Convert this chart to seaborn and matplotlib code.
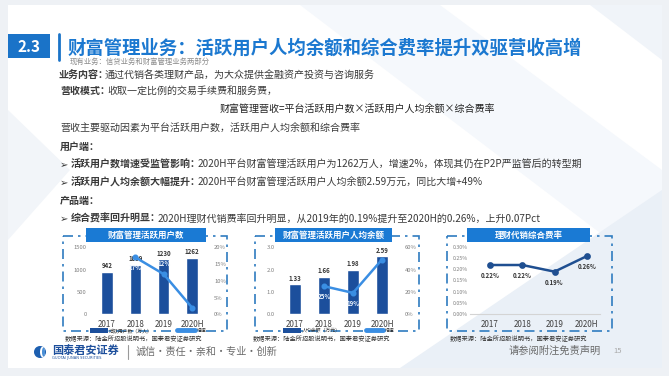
import matplotlib
matplotlib.use("Agg")
import matplotlib.pyplot as plt
import seaborn as sns
import numpy as np
import pandas as pd
from matplotlib.patches import Rectangle, Polygon, Patch, Circle, Ellipse
from matplotlib.lines import Line2D

# ---------------- data ----------------
years = ["2017", "2018", "2019", "2020H"]
active_users = [942, 1099, 1230, 1262]            # 万人
user_growth = [np.nan, 17, 12, 2]                 # %
avg_balance = [1.33, 1.66, 1.98, 2.59]            # 万元
balance_growth = [np.nan, 25, 19, 49]             # %
fee_rate = [0.22, 0.22, 0.19, 0.26]               # %

users_ticks = [0, 500, 1000, 1500]
users_growth_ticks = [0, 5, 10, 15, 20]
balance_ticks = [0.0, 1.0, 2.0, 3.0]
balance_growth_ticks = [0, 20, 40, 60]
fee_ticks = [0.00, 0.05, 0.10, 0.15, 0.20, 0.25, 0.30]

chart_titles = ["财富管理活跃用户数", "财富管理活跃用户人均余额", "理财代销综合费率"]
legend1 = ["活跃用户数（万人）", "增速"]
legend2 = ["人均余额（万元）", "增速"]
source_text = "数据来源：陆金所招股说明书，国泰君安证券研究"

# ---------------- style ----------------
sns.set_theme(style="white")
plt.rcParams["font.family"] = ["Noto Sans CJK SC", "DejaVu Sans"]

W, H = 669, 376
DARK = "#1c4f9c"
LIGHT = "#3a8ee3"
BOXBLUE = "#1a7ad4"
TXT = "#3a3a3a"

fig = plt.figure(figsize=(W / 100, H / 100), dpi=100)
fig.patch.set_facecolor("#eef1f5")

bg = fig.add_axes([0, 0, 1, 1])
bg.set_xlim(0, W)
bg.set_ylim(H, 0)
bg.axis("off")
bg.set_zorder(-5)


def frect(x0, y0, x1, y1):
    return [x0 / W, 1 - y1 / H, (x1 - x0) / W, (y1 - y0) / H]


# slide background & faint decorations
bg.add_patch(Rectangle((8, 5), 654, 363, facecolor="white", edgecolor="none"))
bg.add_patch(Polygon([(300, 5), (440, 5), (662, 170), (662, 280)], closed=True,
                     facecolor="#f5f8fc", edgecolor="none"))
bg.add_patch(Polygon([(400, 368), (662, 190), (662, 368)], closed=True,
                     facecolor="#eaf0f7", edgecolor="none"))
bg.add_patch(Polygon([(8, 110), (70, 170), (8, 240)], closed=True,
                     facecolor="#f2f5f9", edgecolor="none"))
bg.add_patch(Polygon([(590, 5), (662, 5), (662, 60)], closed=True,
                     facecolor="#f0f4f9", edgecolor="none"))

renderer = fig.canvas.get_renderer()


def rich(x, yc, parts, size, color=TXT):
    base = yc + 0.38 * size * 100 / 72
    for txt, bold in parts:
        t = bg.text(x, base, txt, fontsize=size, color=color, va="baseline", ha="left",
                    fontweight="bold" if bold else "normal")
        bb = t.get_window_extent(renderer=renderer)
        x += bb.width
        if txt == "➢":
            x += 2
        elif txt.endswith("："):
            x -= 3
    return x


# header
bg.add_patch(Rectangle((8, 34), 42, 24, facecolor="#1a73c8", edgecolor="none"))
bg.text(29, 46.5, "2.3", color="white", fontsize=11, fontweight="bold", ha="center", va="center")
bg.plot([59, 59], [34, 60], color="#1a73c8", lw=2)
rich(68, 47, [("财富管理业务：活跃用户人均余额和综合费率提升双驱营收高增", True)], 13.2, color="#1b78d0")
bg.text(70, 62, "现有业务：信贷业务和财富管理业务两部分", fontsize=5.3, color="#8c8c8c",
        ha="left", va="center")

BODY = 7.2
rich(58, 75, [("业务内容：", True), ("通过代销各类理财产品，为大众提供金融资产投资与咨询服务", False)], BODY)
rich(60, 90.5, [("营收模式：", True), ("收取一定比例的交易手续费和服务费，", False)], BODY)
bg.text(357, 109 + 0.38 * BODY * 100 / 72, "财富管理营收=平台活跃用户数×活跃用户人均余额×综合费率",
        fontsize=BODY, color="#222222", ha="center", va="baseline")
rich(60, 128, [("营收主要驱动因素为平台活跃用户数，活跃用户人均余额和综合费率", False)], BODY)
rich(60, 146.5, [("用户端：", True)], BODY)
rich(60, 164, [("➢", False), ("活跃用户数增速受监管影响：", True),
               ("2020H平台财富管理活跃用户为1262万人，增速2%，体现其仍在P2P严监管后的转型期", False)], BODY)
rich(60, 182, [("➢", False), ("活跃用户人均余额大幅提升：", True),
               ("2020H平台财富管理活跃用户人均余额2.59万元，同比大增+49%", False)], BODY)
rich(60, 200.5, [("产品端：", True)], BODY)
rich(60, 218, [("➢", False), ("综合费率回升明显：", True),
               ("2020H理财代销费率回升明显，从2019年的0.19%提升至2020H的0.26%，上升0.07Pct", False)], BODY)

# chart frames, title boxes, sources
frames = [(63, 236, 227, 331), (255, 236, 419, 331), (447, 236, 612, 331)]
boxes = [(86, 228, 206, 242), (275, 228, 392, 242), (467, 228, 590, 242)]
src_x = [65, 253, 450]
for (x0, y0, x1, y1), (bx0, by0, bx1, by1), title, sx in zip(frames, boxes, chart_titles, src_x):
    bg.add_patch(Rectangle((x0, y0), x1 - x0, y1 - y0, fill=False, edgecolor="#2f7cc0",
                           lw=1.2, linestyle=(0, (6, 3, 1.5, 3))))
    bg.add_patch(Rectangle((bx0, by0), bx1 - bx0, by1 - by0, facecolor=BOXBLUE,
                           edgecolor="none", zorder=3))
    bg.text((bx0 + bx1) / 2, (by0 + by1) / 2, title, color="white", fontsize=6.1,
            fontweight="bold", ha="center", va="center", zorder=4)
    bg.text(sx, 339, source_text, fontsize=4.5, color="#333333", ha="left", va="center")

# footer
bg.add_patch(Circle((40, 352), 6, facecolor="#1d5fb0", edgecolor="none"))
bg.add_patch(Ellipse((42.5, 352), 5, 10.5, facecolor="white", edgecolor="none"))
bg.add_patch(Ellipse((43.5, 352), 3, 9, facecolor="#4a8fd6", edgecolor="none"))
bg.text(52, 350, "国泰君安证券", fontsize=8, fontweight="bold", color="#1d4f9c",
        ha="left", va="center")
bg.text(52, 358.5, "GUOTAI JUNAN SECURITIES", fontsize=2.6, color="#1d4f9c",
        ha="left", va="center", family="DejaVu Sans")
bg.plot([128, 128], [345, 359], color="#9a9a9a", lw=0.8)
bg.text(136, 352, "诚信·责任·亲和·专业·创新", fontsize=7.3, color="#6a6a6a", ha="left", va="center")
bg.text(509, 351, "请参阅附注免责声明", fontsize=7.4, color="#6a6a6a", ha="left", va="center")
bg.text(613, 351, "15", fontsize=5.5, color="#a8a8a8", ha="left", va="center")

TICK = "#7f7f7f"
YEAR = "#404040"


def style_bar_axes(ax, axr):
    ax.patch.set_alpha(0)
    for a in (ax, axr):
        for s in a.spines.values():
            s.set_visible(False)
    ax.tick_params(axis="y", length=0, labelsize=4.2, labelcolor=TICK, pad=2.2)
    ax.tick_params(axis="x", length=0, labelsize=5.8, labelcolor=YEAR, pad=4.3)
    axr.tick_params(axis="y", length=0, labelsize=4.2, labelcolor=TICK, pad=3.6)
    ax.set_xlabel("")
    ax.set_ylabel("")
    axr.set_ylabel("")
    axr.grid(False)
    ax.grid(False)


def bar_line_chart(rect, bars, growth, yticks, yfmt, gticks, bar_w, label_fmt,
                   growth_offsets, legend_labels, legend_x):
    ax = fig.add_axes(frect(*rect))
    df = pd.DataFrame({"year": years, "value": bars, "growth": growth})
    sns.barplot(data=df, x="year", y="value", order=years, color=DARK, saturation=1,
                width=bar_w, ax=ax)
    ax.bar_label(ax.containers[0], labels=[label_fmt.format(v) for v in bars],
                 padding=2, fontsize=4.4, fontweight="bold", color="#333333")
    axr = ax.twinx()
    sns.pointplot(data=df, x="year", y="growth", order=years, color=LIGHT, markers="o",
                  markersize=3, linewidth=1.8, errorbar=None, ax=axr)
    for i, (g, off) in enumerate(zip(growth, growth_offsets)):
        if not np.isnan(g):
            axr.annotate(f"{g:.0f}%", (i, g), xytext=(0, off), textcoords="offset points",
                         ha="center", va="center", fontsize=4.4, fontweight="bold",
                         color="#eef5fd")
    ax.set_ylim(yticks[0], yticks[-1])
    ax.set_yticks(yticks)
    ax.set_yticklabels([yfmt.format(v) for v in yticks])
    axr.set_ylim(gticks[0], gticks[-1])
    axr.set_yticks(gticks)
    axr.set_yticklabels([f"{v}%" for v in gticks])
    ax.set_xlim(-0.6, 3.6)
    style_bar_axes(ax, axr)
    handles = [Patch(facecolor=DARK, edgecolor="none"),
               Line2D([0], [0], color=LIGHT, lw=3.5)]
    leg = fig.legend(handles, legend_labels, loc="center left",
                     bbox_to_anchor=(legend_x / W, 1 - 330.5 / H),
                     ncol=2, frameon=False, fontsize=3.5, handlelength=3.6, handleheight=1.2,
                     handletextpad=0.35, columnspacing=5.0, borderpad=0, borderaxespad=0)
    leg.set_zorder(10)
    for t in leg.get_texts():
        t.set_color("#333333")
    return ax, axr


bar_line_chart((90, 247.3, 209, 314.3), active_users, user_growth, users_ticks, "{:d}",
               users_growth_ticks, 0.41, "{:d}", [-8.5, -7.5, 7.5], legend1, 90)
bar_line_chart((277.6, 247.3, 399.4, 314), avg_balance, balance_growth, balance_ticks,
               "{:.1f}", balance_growth_ticks, 0.40, "{:.2f}", [-6.5, -7.5, -7.5],
               legend2, 283)

# fee rate line chart
ax3 = fig.add_axes(frect(470, 247.3, 600, 313.7))
ax3.patch.set_alpha(0)
df3 = pd.DataFrame({"year": years, "rate": fee_rate})
sns.pointplot(data=df3, x="year", y="rate", order=years, color="#1f4f91", markers="o",
              markersize=3.5, linewidth=1.8, errorbar=None, ax=ax3)
for i, v in enumerate(fee_rate):
    ax3.annotate(f"{v:.2f}%", (i, v), xytext=(0, -7.8), textcoords="offset points",
                 ha="center", va="center", fontsize=4.4, fontweight="bold", color="#333333")
ax3.set_ylim(fee_ticks[0], fee_ticks[-1])
ax3.set_yticks(fee_ticks)
ax3.set_yticklabels([f"{v:.2f}%" for v in fee_ticks])
ax3.set_xlim(-0.62, 3.41)
for name, s in ax3.spines.items():
    s.set_visible(name == "bottom")
ax3.spines["bottom"].set_color("#d4d4d4")
ax3.spines["bottom"].set_linewidth(0.8)
ax3.tick_params(axis="y", length=0, labelsize=3.8, labelcolor=TICK, pad=1.4)
ax3.tick_params(axis="x", length=0, labelsize=5.8, labelcolor=YEAR, pad=4.3)
ax3.set_xlabel("")
ax3.set_ylabel("")
ax3.grid(False)

fig.savefig("out.png", dpi=100, facecolor=fig.get_facecolor())
